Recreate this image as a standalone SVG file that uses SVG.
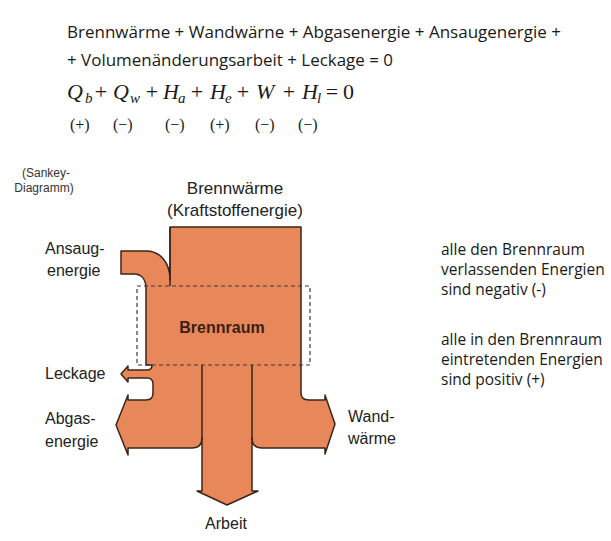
<svg xmlns="http://www.w3.org/2000/svg" width="611" height="541" viewBox="0 0 611 541">
<style>
.t{font-family:"Open Sans","Noto Sans",sans-serif;fill:#1a1a1a}
.m{font-family:"Liberation Serif","DejaVu Serif",serif;fill:#1a1a1a}
.mi{font-style:italic}
.l{font-family:"Liberation Sans",Arial,sans-serif;fill:#222}
.ln{stroke:#3b2417;stroke-width:1.5;fill:none}
</style>
<rect width="611" height="541" fill="#ffffff"/>
<g id="equation-text">
<text class="t" x="67" y="38" font-size="16.5" textLength="494" lengthAdjust="spacingAndGlyphs">Brennwärme + Wandwärne + Abgasenergie + Ansaugenergie +</text>
<text class="t" x="67" y="66" font-size="16.5" textLength="326" lengthAdjust="spacingAndGlyphs">+ Volumenänderungsarbeit + Leckage = 0</text>
</g>
<g id="formula" class="m" font-size="22">
<text x="67" y="99" class="mi">Q</text><text x="85" y="103" class="mi" font-size="15">b</text>
<text x="101" y="99" text-anchor="middle">+</text>
<text x="113" y="99" class="mi">Q</text><text x="130" y="103" class="mi" font-size="15">w</text>
<text x="152" y="99" text-anchor="middle">+</text>
<text x="163" y="99" class="mi">H</text><text x="178" y="103" class="mi" font-size="15">a</text>
<text x="197" y="99" text-anchor="middle">+</text>
<text x="210" y="99" class="mi">H</text><text x="225" y="103" class="mi" font-size="15">e</text>
<text x="243" y="99" text-anchor="middle">+</text>
<text x="256" y="99" class="mi">W</text>
<text x="289" y="99" text-anchor="middle">+</text>
<text x="302" y="99" class="mi">H</text><text x="317" y="103" class="mi" font-size="15">l</text>
<text x="332" y="99" text-anchor="middle">=</text>
<text x="343" y="99">0</text>
</g>
<g id="signs" class="m" font-size="16">
<text x="70" y="130">(+)</text>
<text x="113" y="130">(−)</text>
<text x="165" y="130">(−)</text>
<text x="210" y="130">(+)</text>
<text x="255" y="130">(−)</text>
<text x="298" y="130">(−)</text>
</g>
<g id="sankey-caption" class="l" font-size="12" text-anchor="middle" style="fill:#333">
<text x="46" y="177">(Sankey-</text>
<text x="44" y="192">Diagramm)</text>
</g>
<g id="brennraum-node">
<path d="M170,227 L301,227 L301,393 Q301,400 309,400 L325,400 L325,395 L335,424 L325,454 L325,448 L262,448 Q252,448 252,438 L252,491 L258,491 L227,505 L197,491 L202,491 L202,438 Q202,448 192,448 L128,448 L128,455 L116,425 L128,395 L128,400 L146,400 Q153,400 153,393 L153,384 Q153,378 147,378 L128,378 L128,382 L121,374 L128,366 L128,370 L147,370 Q152,370 152,365 L146,365 L146,289 C146,280 142,274 134,274 L121,274 L121,251 L146,251 C160,251 170,262 170,280 Z" fill="#e8885a" stroke="#3b2417" stroke-width="1.5" stroke-linejoin="round"/>
<line class="ln" x1="202" y1="365" x2="202" y2="440"/>
<line class="ln" x1="252" y1="365" x2="252" y2="440"/>
<line class="ln" x1="170" y1="227" x2="170" y2="286"/>
<rect x="137" y="286" width="173" height="79" fill="none" stroke="#3a3a3a" stroke-width="1.2" stroke-dasharray="4,3"/>
<text class="l" x="222" y="333" font-size="16" font-weight="bold" text-anchor="middle" style="fill:#3a1f14">Brennraum</text>
</g>
<g id="brennwaerme-label" class="l" font-size="17" text-anchor="middle">
<text x="235" y="194">Brennwärme</text>
<text x="235" y="216">(Kraftstoffenergie)</text>
</g>
<g id="ansaug-label" class="l" font-size="16">
<text x="45" y="254">Ansaug-</text>
<text x="47" y="276">energie</text>
</g>
<g id="leckage-label" class="l" font-size="16">
<text x="45" y="379">Leckage</text>
</g>
<g id="abgas-label" class="l" font-size="16">
<text x="45" y="424">Abgas-</text>
<text x="45" y="447">energie</text>
</g>
<g id="wand-label" class="l" font-size="16">
<text x="348" y="422">Wand-</text>
<text x="348" y="444">wärme</text>
</g>
<g id="arbeit-label" class="l" font-size="16" text-anchor="middle">
<text x="226" y="529">Arbeit</text>
</g>
<g id="note-negative" class="t" font-size="15.5">
<text x="441" y="255">alle den Brennraum</text>
<text x="441" y="275">verlassenden Energien</text>
<text x="441" y="295">sind negativ (-)</text>
</g>
<g id="note-positive" class="t" font-size="15.5">
<text x="441" y="345">alle in den Brennraum</text>
<text x="441" y="365">eintretenden Energien</text>
<text x="441" y="385">sind positiv (+)</text>
</g>
</svg>
